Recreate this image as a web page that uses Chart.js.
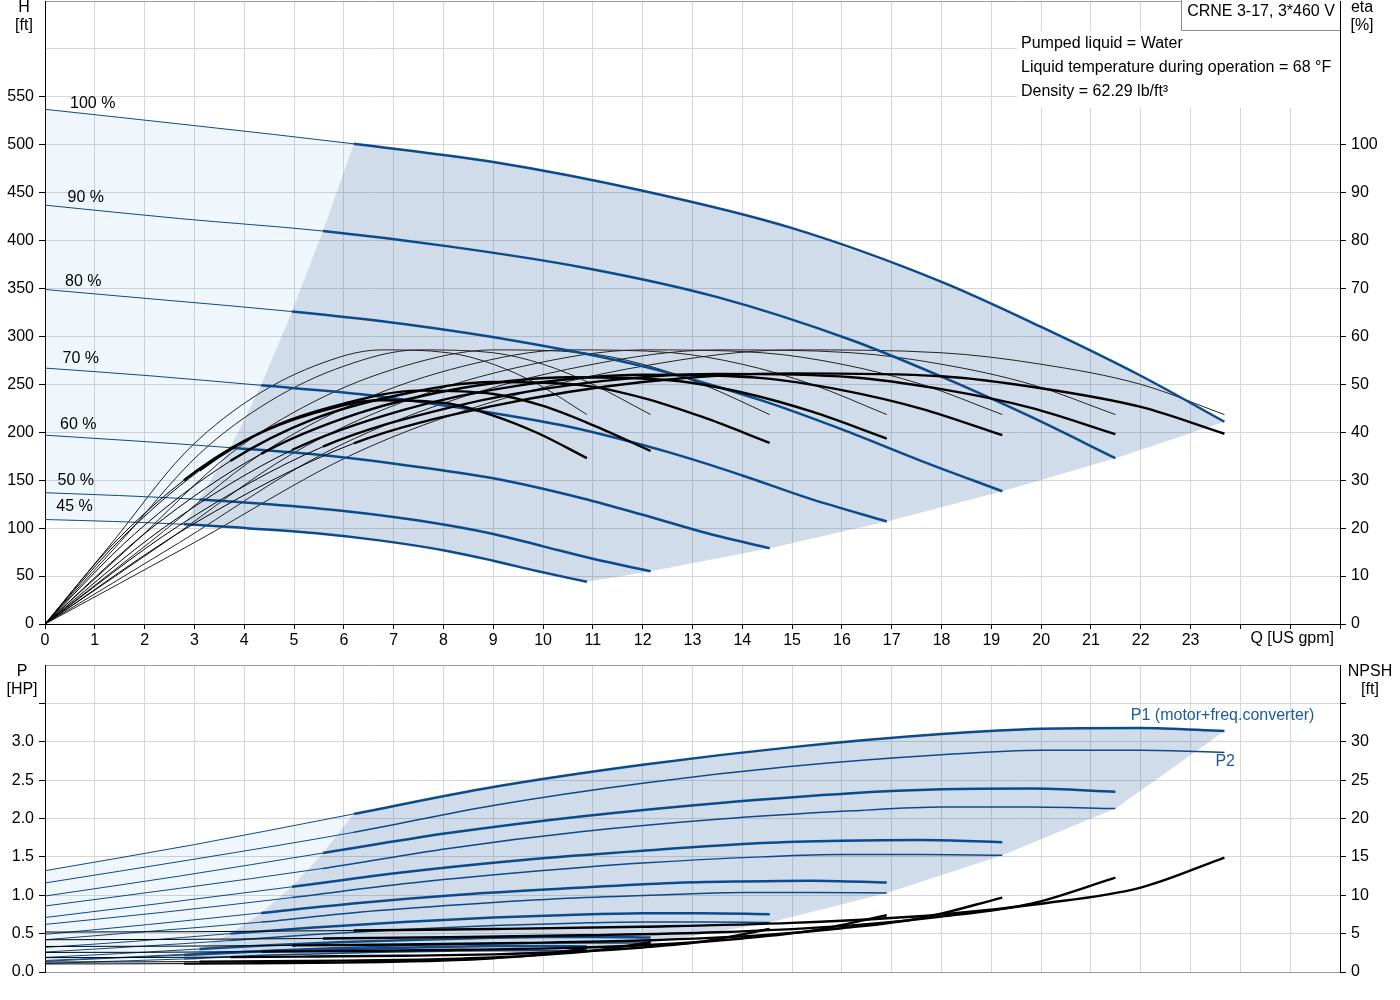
<!DOCTYPE html>
<html>
<head>
<meta charset="utf-8">
<script src="https://cdn.jsdelivr.net/npm/chart.js@4.4.1/dist/chart.umd.min.js"></script>
<style>
  html, body { margin: 0; padding: 0; background: #fff; }
  #wrap { position: relative; width: 1400px; height: 1000px; }
  canvas { position: absolute; left: 0; }
  #top { top: 0; }
  #bottom { top: 655px; }
</style>
</head>
<body>
<div id="wrap">
  <canvas id="top" width="1400" height="655"></canvas>
  <canvas id="bottom" width="1400" height="345"></canvas>
</div>
<script>
// Speeds of the pump (percent of nominal)
const speeds = [100, 90, 80, 70, 60, 50, 45];

// Flow points per speed [US gpm]; index 2 = min flow, last = max flow
const flow100 = [0, 3, 6.2, 9, 12, 15, 18, 20, 22, 23.68];
const flow90 = [0, 2.7, 5.58, 8.1, 10.8, 13.5, 16.2, 18, 19.8, 21.49];
const flow80 = [0, 2.4, 4.96, 7.2, 9.6, 12, 14.4, 16, 17.6, 19.22];
const flow70 = [0, 2.1, 4.34, 6.3, 8.4, 10.5, 12.6, 14, 15.4, 16.9];
const flow60 = [0, 1.8, 3.72, 5.4, 7.2, 9, 10.8, 12, 13.2, 14.55];
const flow50 = [0, 1.5, 3.1, 4.5, 6, 7.5, 9, 10, 11, 12.16];
const flow45 = [0, 1.35, 2.79, 4.05, 5.4, 6.75, 8.1, 9, 9.9, 10.88];

// Head [ft]
const head100 = [537, 520, 501, 482, 452, 413, 357, 310, 259, 211];
const head90 = [437, 423, 410, 394, 372, 341, 296, 258, 216, 173];
const head80 = [349, 338, 326, 313, 294, 269, 233, 203, 170, 138.5];
const head70 = [267, 259, 249, 240, 225, 206, 178, 155, 130, 107];
const head60 = [197, 191, 184, 177, 166, 152, 131, 114, 96, 79];
const head50 = [137, 134, 130, 125, 118, 108, 94, 81, 68, 55];
const head45 = [109, 107, 104, 100, 95, 87, 76, 66, 55, 44];

// Pump efficiency [%] (same shape for every speed)
const etaPump = [0, 17, 35.5, 46.4, 53.8, 57.2, 56.6, 54.2, 50, 43.7];

// Total efficiency [%]
const etaTotal100 = [0, 21, 37.7, 45.5, 50.5, 52.3, 51.7, 49.2, 45.3, 39.7];
const etaTotal90 = [0, 20.6, 37, 45.1, 50.2, 52.2, 51.5, 49, 45.1, 39.6];
const etaTotal80 = [0, 20.2, 36.3, 44.7, 49.9, 52, 51.3, 48.8, 44.9, 39.4];
const etaTotal70 = [0, 19.7, 35.5, 44, 49.3, 51.5, 50.8, 48.3, 44.3, 38.7];
const etaTotal60 = [0, 18.8, 34, 42.8, 48, 50.5, 49.8, 47.2, 43.2, 37.8];
const etaTotal50 = [0, 17.5, 32, 40.8, 46, 48.7, 48, 45.5, 41.5, 36.1];
const etaTotal45 = [0, 16.5, 30, 38.5, 44, 46.7, 46, 43.5, 39.8, 34.6];

// P1 (motor + freq. converter) [HP]
const p1_100 = [1.32, 1.66, 2.06, 2.41, 2.70, 2.93, 3.10, 3.17, 3.18, 3.14];
const p1_90 = [0.99, 1.25, 1.55, 1.81, 2.03, 2.20, 2.33, 2.38, 2.39, 2.35];
const p1_80 = [0.71, 0.90, 1.11, 1.30, 1.46, 1.58, 1.68, 1.71, 1.72, 1.69];
const p1_70 = [0.49, 0.62, 0.77, 0.90, 1.01, 1.09, 1.16, 1.18, 1.19, 1.165];
const p1_60 = [0.32, 0.40, 0.50, 0.58, 0.65, 0.71, 0.75, 0.765, 0.767, 0.753];
const p1_50 = [0.19, 0.24, 0.30, 0.35, 0.39, 0.42, 0.446, 0.456, 0.457, 0.449];
const p1_45 = [0.14, 0.18, 0.22, 0.26, 0.29, 0.31, 0.33, 0.338, 0.339, 0.333];

// P2 (shaft) [HP]
const p2_100 = [1.16, 1.47, 1.82, 2.17, 2.46, 2.68, 2.83, 2.89, 2.89, 2.86];
const p2_90 = [0.86, 1.09, 1.35, 1.61, 1.83, 1.99, 2.10, 2.15, 2.15, 2.13];
const p2_80 = [0.62, 0.78, 0.97, 1.15, 1.30, 1.42, 1.50, 1.53, 1.53, 1.52];
const p2_70 = [0.42, 0.53, 0.65, 0.78, 0.88, 0.96, 1.01, 1.036, 1.036, 1.03];
const p2_60 = [0.26, 0.33, 0.41, 0.49, 0.555, 0.605, 0.64, 0.652, 0.652, 0.645];
const p2_50 = [0.15, 0.19, 0.24, 0.285, 0.32, 0.35, 0.37, 0.379, 0.379, 0.376];
const p2_45 = [0.11, 0.14, 0.17, 0.21, 0.235, 0.256, 0.271, 0.277, 0.277, 0.274];

// NPSH [ft]
const npsh100 = [5.2, 5.25, 5.4, 5.6, 5.9, 6.4, 7.5, 8.9, 11.0, 14.9];
const npsh90 = [4.2, 4.25, 4.37, 4.54, 4.78, 5.18, 6.08, 7.21, 8.91, 12.3];
const npsh80 = [3.33, 3.36, 3.46, 3.58, 3.78, 4.1, 4.8, 5.7, 7.04, 9.7];
const npsh70 = [2.55, 2.57, 2.65, 2.74, 2.89, 3.14, 3.68, 4.36, 5.39, 7.4];
const npsh60 = [1.87, 1.89, 1.94, 2.02, 2.12, 2.3, 2.7, 3.2, 3.96, 5.6];
const npsh50 = [1.3, 1.31, 1.35, 1.4, 1.48, 1.6, 1.88, 2.23, 2.75, 3.9];
const npsh45 = [1.05, 1.06, 1.09, 1.13, 1.19, 1.3, 1.52, 1.8, 2.23, 3.1];

const infoLines = ['Pumped liquid = Water', 'Liquid temperature during operation = 68 °F', 'Density = 62.29 lb/ft³'];
const pumpName = 'CRNE 3-17, 3*460 V';

const flows = [flow100, flow90, flow80, flow70, flow60, flow50, flow45];
const heads = [head100, head90, head80, head70, head60, head50, head45];
const etaTotals = [etaTotal100, etaTotal90, etaTotal80, etaTotal70, etaTotal60, etaTotal50, etaTotal45];
const powers1 = [p1_100, p1_90, p1_80, p1_70, p1_60, p1_50, p1_45];
const powers2 = [p2_100, p2_90, p2_80, p2_70, p2_60, p2_50, p2_45];
const npshs = [npsh100, npsh90, npsh80, npsh70, npsh60, npsh50, npsh45];

const MIN = 2, END = 9, LAST = speeds.length - 1;
const BLUE = '#0b4a8b', BLACK = '#000000';
const DARK = 'rgba(22, 82, 145, 0.2)', LIGHT = 'rgba(40, 130, 220, 0.075)';
const GRID = '#d6d6d6', EDGE = '#9a9a9a', NONE = 'rgba(0,0,0,0)';
const FONT = { family: '"Liberation Sans", Arial, sans-serif', size: 16 };
const FONT_CSS = '16px "Liberation Sans", Arial, sans-serif';

function pts(qs, vs) {
    return qs.map((q, i) => ({ x: q, y: vs[i] }));
}

// Curve that is thin below min flow and thick in the operating range
function curve(qs, vs, color, thin, thick, axis, order) {
    return {
        data: pts(qs, vs),
        borderColor: color,
        borderWidth: thick,
        pointRadius: 0,
        cubicInterpolationMode: 'monotone',
        fill: false,
        yAxisID: axis,
        order: order,
        segment: { borderWidth: c => c.p0DataIndex < MIN ? thin : thick }
    };
}

function area(points, color) {
    return {
        data: points,
        borderColor: NONE,
        borderWidth: 0,
        backgroundColor: color,
        pointRadius: 0,
        tension: 0,
        fill: 'shape',
        yAxisID: 'y',
        order: 10
    };
}

// light area left of min flow, dark operating area
function regions(upper, lower, minEdge, maxEdge) {
    const light = [];
    for (let i = 0; i <= MIN; i++) light.push(upper[i]);
    for (let s = 1; s <= LAST; s++) light.push(minEdge[s]);
    for (let i = MIN - 1; i >= 0; i--) light.push(lower[i]);

    const dark = [];
    for (let s = LAST; s >= 0; s--) dark.push(minEdge[s]);
    for (let i = MIN + 1; i <= END; i++) dark.push(upper[i]);
    for (let s = 1; s <= LAST; s++) dark.push(maxEdge[s]);
    for (let i = END - 1; i > MIN; i--) dark.push(lower[i]);
    return [area(light, LIGHT), area(dark, DARK)];
}

function fitBox(w, h) {
    return s => {
        if (w) s.width = w;
        if (h) s.height = h;
        s.paddingTop = 0; s.paddingBottom = 0; s.paddingLeft = 0; s.paddingRight = 0;
    };
}

// ---------- top chart: H and eta ----------
const topSets = [];
const hPoints = flows.map((q, s) => pts(q, heads[s]));
topSets.push(...regions(
    hPoints[0], hPoints[LAST],
    hPoints.map(p => p[MIN]),
    hPoints.map(p => p[END])
));
flows.forEach((q, s) => topSets.push(curve(q, etaPump, '#222', 1, 1, 'y2', 5)));
flows.forEach((q, s) => topSets.push(curve(q, heads[s], BLUE, 1, 2.5, 'y', 3)));
flows.forEach((q, s) => topSets.push(curve(q, etaTotals[s], BLACK, 1, 2.4, 'y2', 1)));

const topText = {
    id: 'topText',
    afterDraw(chart) {
        const ctx = chart.ctx;
        const ys = chart.scales.y;
        const area = chart.chartArea;
        ctx.save();
        ctx.font = FONT_CSS;
        ctx.fillStyle = '#000';
        ctx.textBaseline = 'middle';
        ctx.textAlign = 'center';
        ctx.fillText('H', 24, 8);
        ctx.fillText('[ft]', 24, 26);
        ctx.fillText('eta', 1362, 8);
        ctx.fillText('[%]', 1362, 26);

        ctx.textAlign = 'left';
        speeds.forEach((sp, s) => {
            const y = ys.getPixelForValue(heads[s][0]) - (6 + (100 - sp) * 0.12);
            ctx.fillText(sp + ' %', area.left + 0.25 * sp, y);
        });

        // info block
        ctx.fillStyle = '#fff';
        ctx.fillRect(1017, 31, area.right - 1017, 77);
        ctx.fillRect(1181, 1, area.right - 1181, 29);
        ctx.strokeStyle = '#8c8c8c';
        ctx.lineWidth = 1;
        ctx.beginPath();
        ctx.moveTo(1181.5, 0);
        ctx.lineTo(1181.5, 30.5);
        ctx.lineTo(area.right, 30.5);
        ctx.stroke();
        ctx.fillStyle = '#000';
        ctx.textAlign = 'center';
        ctx.fillText(pumpName, 1261, 12);
        ctx.textAlign = 'left';
        infoLines.forEach((t, i) => ctx.fillText(t, 1021, 44 + i * 24));

        ctx.textAlign = 'right';
        ctx.fillText('Q [US gpm]', 1334, 639);
        ctx.restore();
    }
};

new Chart(document.getElementById('top'), {
    type: 'line',
    data: { datasets: topSets },
    options: {
        responsive: false,
        animation: false,
        devicePixelRatio: 1,
        events: [],
        layout: { padding: { top: 1, left: 0, right: 0, bottom: 0 } },
        plugins: { legend: { display: false }, tooltip: { enabled: false } },
        scales: {
            x: {
                type: 'linear', min: 0, max: 26,
                ticks: { stepSize: 1, autoSkip: false, maxRotation: 0, padding: 2, color: '#000', font: FONT,
                    callback: v => v <= 23 ? v : '' },
                grid: { color: GRID, tickLength: 5, tickColor: '#000' },
                border: { color: '#000' },
                afterFit: fitBox(0, 31)
            },
            y: {
                type: 'linear', position: 'left', min: 0, max: 650,
                ticks: { stepSize: 50, padding: 5, color: '#000', font: FONT,
                    callback: v => v <= 550 ? v : '' },
                grid: { color: c => c.tick.value >= 650 ? EDGE : GRID, tickLength: 6,
                    tickColor: c => c.tick.value <= 550 ? '#000' : NONE },
                border: { color: '#000' },
                afterFit: fitBox(45, 0)
            },
            y2: {
                type: 'linear', position: 'right', min: 0, max: 130,
                ticks: { stepSize: 10, padding: 5, color: '#000', font: FONT,
                    callback: v => v <= 100 ? v : '' },
                grid: { drawOnChartArea: false, tickLength: 6,
                    tickColor: c => c.tick.value <= 100 ? '#000' : NONE },
                border: { color: '#000' },
                afterFit: fitBox(60, 0)
            }
        }
    },
    plugins: [topText]
});

// ---------- bottom chart: P and NPSH ----------
const bottomSets = [];
const p1Points = flows.map((q, s) => pts(q, powers1[s]));
const p2Points = flows.map((q, s) => pts(q, powers2[s]));
const minEdgeP = p1Points.map(p => p[MIN]);
minEdgeP[LAST] = p2Points[LAST][MIN];
const maxEdgeP = p2Points.map(p => p[END]);
maxEdgeP[0] = p1Points[0][END];
bottomSets.push(...regions(p1Points[0], p2Points[LAST], minEdgeP, maxEdgeP));
flows.forEach((q, s) => bottomSets.push(curve(q, powers2[s], BLUE, 1, 1.5, 'y', 4)));
flows.forEach((q, s) => bottomSets.push(curve(q, powers1[s], BLUE, 1, 2.5, 'y', 3)));
flows.forEach((q, s) => bottomSets.push(curve(q, npshs[s], BLACK, 1, 2.4, 'y2', 1)));

const bottomText = {
    id: 'bottomText',
    afterDraw(chart) {
        const ctx = chart.ctx;
        const xs = chart.scales.x, ys = chart.scales.y;
        ctx.save();
        ctx.font = FONT_CSS;
        ctx.fillStyle = '#000';
        ctx.textBaseline = 'middle';
        ctx.textAlign = 'center';
        ctx.fillText('P', 22, 17);
        ctx.fillText('[HP]', 22, 35);
        ctx.fillText('NPSH', 1370, 17);
        ctx.fillText('[ft]', 1370, 35);

        ctx.fillStyle = '#1b5a9a';
        const e1x = xs.getPixelForValue(flow100[END]), e1y = ys.getPixelForValue(p1_100[END]);
        ctx.textAlign = 'right';
        ctx.fillText('P1 (motor+freq.converter)', e1x + 90, e1y - 15);
        const e2x = xs.getPixelForValue(flow100[END]), e2y = ys.getPixelForValue(p2_100[END]);
        ctx.textAlign = 'left';
        ctx.fillText('P2', e2x - 9, e2y + 9);
        ctx.restore();
    }
};

new Chart(document.getElementById('bottom'), {
    type: 'line',
    data: { datasets: bottomSets },
    options: {
        responsive: false,
        animation: false,
        devicePixelRatio: 1,
        events: [],
        layout: { padding: { top: 10, left: 0, right: 0, bottom: 0 } },
        plugins: { legend: { display: false }, tooltip: { enabled: false } },
        scales: {
            x: {
                type: 'linear', min: 0, max: 26,
                ticks: { display: false, stepSize: 1, autoSkip: false },
                grid: { color: GRID, drawTicks: false },
                border: { color: EDGE },
                afterFit: fitBox(0, 28)
            },
            y: {
                type: 'linear', position: 'left', min: 0, max: 4,
                ticks: { stepSize: 0.5, padding: 5, color: '#000', font: FONT,
                    callback: v => v <= 3.001 ? v.toFixed(1) : '' },
                grid: { color: c => c.tick.value >= 3.999 ? EDGE : GRID, tickLength: 6,
                    tickColor: c => c.tick.value <= 3.501 ? '#000' : NONE },
                border: { color: '#000' },
                afterFit: fitBox(45, 0)
            },
            y2: {
                type: 'linear', position: 'right', min: 0, max: 40,
                ticks: { stepSize: 5, padding: 5, color: '#000', font: FONT,
                    callback: v => v <= 30 ? v : '' },
                grid: { drawOnChartArea: false, tickLength: 6,
                    tickColor: c => c.tick.value <= 35 ? '#000' : NONE },
                border: { color: '#000' },
                afterFit: fitBox(60, 0)
            }
        }
    },
    plugins: [bottomText]
});
</script>
</body>
</html>
